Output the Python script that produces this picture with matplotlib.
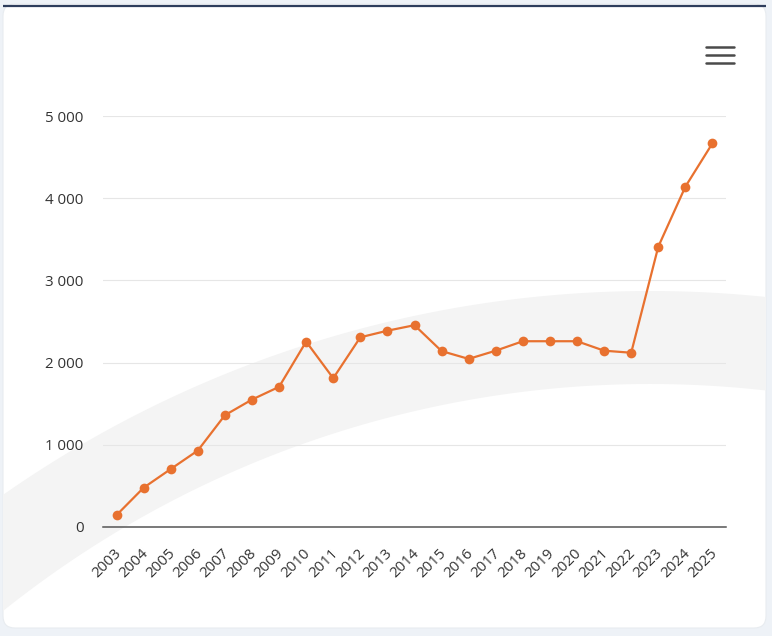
import numpy as np
import matplotlib
matplotlib.use("Agg")
import matplotlib.pyplot as plt
import matplotlib.transforms as mtransforms
from matplotlib.patches import FancyBboxPatch, Polygon
from matplotlib.ticker import FuncFormatter

years = [str(y) for y in range(2003, 2026)]
values = [145, 478, 705, 930, 1360, 1550, 1705, 2255, 1810, 2308, 2388, 2455,
          2140, 2045, 2145, 2260, 2260, 2260, 2145, 2120, 3410, 4140, 4668]
y_ticks = [0, 1000, 2000, 3000, 4000, 5000]

plt.rcParams['font.family'] = ['Open Sans', 'DejaVu Sans']

W, H = 772, 636
fig = plt.figure(figsize=(W / 100, H / 100), dpi=100)
fig.patch.set_facecolor('#eef2f7')

# background decoration axes in pixel coordinates
bg = fig.add_axes([0, 0, 1, 1])
bg.set_xlim(0, W)
bg.set_ylim(H, 0)
bg.axis('off')
card = FancyBboxPatch((3, 4), 763, 624, boxstyle="round,pad=0,rounding_size=12",
                      facecolor='white', edgecolor='#e8ecf0', linewidth=0.8, zorder=1)
bg.add_patch(card)
# swoosh band (annulus arc)
cx, cy = 650, 1419.5
R1, R2 = 1128.5, 1035.5
xs = np.linspace(-5, W + 5, 200)
up = cy - np.sqrt(np.clip(R1**2 - (xs - cx)**2, 0, None))
lo = cy - np.sqrt(np.clip(R2**2 - (xs - cx)**2, 0, None))
pts = np.vstack([np.column_stack([xs, up]), np.column_stack([xs[::-1], lo[::-1]])])
band = Polygon(pts, closed=True, facecolor='#f4f4f4', edgecolor='none', zorder=2)
bg.add_patch(band)
band.set_clip_path(card)
# top navy line
bg.plot([3, 766], [6, 6], color='#2e3d5c', lw=1.6, zorder=3, solid_capstyle='butt')
# hamburger menu icon
for yy in (47, 55, 63):
    bg.plot([706, 734], [yy, yy], color='#4a4a4a', lw=1.8, zorder=3, solid_capstyle='round')

# main chart axes
left, right, bottom, top = 103, 726, 527, 116
ax = fig.add_axes([left / W, (H - bottom) / H, (right - left) / W, (bottom - top) / H])
ax.set_facecolor('none')
x = np.arange(len(years))
ax.plot(x, values, color='#E8712F', lw=1.6, marker='o', markersize=7,
        markeredgewidth=0, zorder=4, clip_on=False)
ax.set_xlim(-0.5, len(years) - 0.5)
ax.set_ylim(0, 5000)
ax.set_yticks(y_ticks)
ax.yaxis.set_major_formatter(FuncFormatter(lambda v, p: f"{int(v):,}".replace(',', ' ')))
ax.set_xticks(x)
ax.set_xticklabels(years, rotation=45, ha='right', va='top', rotation_mode='anchor')
ax.grid(axis='y', color='#e6e6e6', lw=0.8)
ax.set_axisbelow(True)
for s in ('top', 'right', 'left'):
    ax.spines[s].set_visible(False)
ax.spines['bottom'].set_color('#555555')
ax.spines['bottom'].set_linewidth(1.1)
ax.tick_params(axis='y', length=0, pad=14, labelsize=10.8, labelcolor='#333333')
ax.tick_params(axis='x', length=0, pad=13.5, labelsize=10.8, labelcolor='#333333')
shift = mtransforms.ScaledTranslation(-3 / 100, 0, fig.dpi_scale_trans)
for lab in ax.get_xticklabels():
    lab.set_transform(lab.get_transform() + shift)

fig.savefig('out.png', dpi=100, facecolor=fig.get_facecolor())
